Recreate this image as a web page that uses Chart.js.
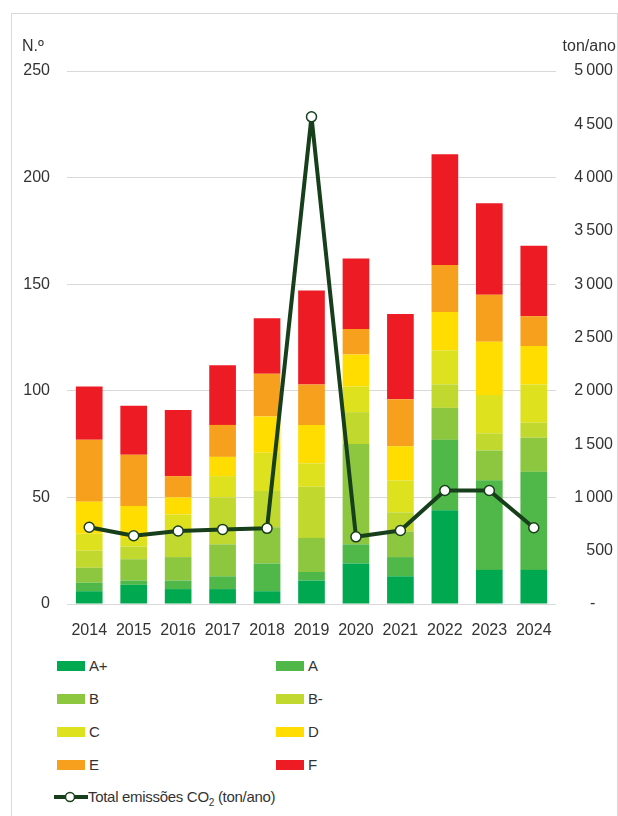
<!DOCTYPE html>
<html>
<head>
<meta charset="utf-8">
<script src="https://cdn.jsdelivr.net/npm/chart.js@4"></script>
<style>
  html, body { margin: 0; padding: 0; background: #fff; }
  #wrap { position: relative; width: 618px; height: 816px; overflow: hidden; font-family: "Liberation Sans", Arial, sans-serif; color: #333; }
  #frame { position: absolute; left: 11px; top: 13px; width: 605px; height: 820px; border-left: 1px solid #d9d9d9; border-top: 1px solid #d9d9d9; border-right: 1px solid #d9d9d9; }
  #chartBox { position: absolute; left: 0; top: 0; width: 618px; height: 650px; }
  .unit { position: absolute; font-size: 16px; line-height: 18px; }
  .leg { position: absolute; font-family: "Liberation Sans Narrow", "Liberation Sans", sans-serif; font-size: 15px; letter-spacing: -0.3px; line-height: 18px; }
  .sw { position: absolute; width: 28px; height: 10px; }
  .lbl { position: absolute; white-space: nowrap; }
</style>
</head>
<body>
<div id="wrap">
  <div id="frame"></div>
  <div id="chartBox"><canvas id="chart"></canvas></div>
  <div class="unit" style="left:22px; top:37px;">N.º</div>
  <div class="unit" style="right:2px; top:37px;">ton/ano</div>
  <div id="legend"></div>
</div>
<script>
// Energy certificates per class (count) and total CO2 emissions per year
const years = ['2014', '2015', '2016', '2017', '2018', '2019', '2020', '2021', '2022', '2023', '2024'];

const classAplus = [6, 9, 7, 7, 6, 11, 19, 13, 44, 16, 16];
const classA     = [4, 2, 4, 6, 13, 4, 9, 9, 33, 42, 46];
const classB     = [7, 10, 11, 15, 17, 16, 47, 12, 15, 14, 16];
const classBm    = [8, 6, 12, 22, 17, 24, 15, 9, 11, 8, 7];
const classC     = [8, 4, 8, 10, 18, 11, 12, 15, 16, 18, 18];
const classD     = [15, 15, 8, 9, 17, 18, 15, 16, 18, 25, 18];
const classE     = [29, 24, 10, 15, 20, 19, 12, 22, 22, 22, 14];
const classF     = [25, 23, 31, 28, 26, 44, 33, 40, 52, 43, 33];

const co2Total = [720, 640, 685, 700, 710, 4570, 630, 690, 1065, 1065, 715];

const classNames  = ['A+', 'A', 'B', 'B-', 'C', 'D', 'E', 'F'];
const classColors = ['#00a94f', '#50b848', '#8dc63f', '#c1d82f', '#dee11e', '#ffdd00', '#f7a01d', '#ed1c24'];
const classSeries = [classAplus, classA, classB, classBm, classC, classD, classE, classF];

const lineColor = '#173f1b';
const tickFont = { family: '"Liberation Sans", Arial, sans-serif', size: 16 };

const datasets = classSeries.map((values, i) => ({
  type: 'bar',
  label: classNames[i],
  data: values,
  backgroundColor: classColors[i],
  borderWidth: 0,
  barPercentage: 0.6,
  categoryPercentage: 1,
  yAxisID: 'y',
  stack: 'classes',
  order: 1
}));

datasets.push({
  type: 'line',
  label: 'Total emissões CO2 (ton/ano)',
  data: co2Total,
  borderColor: lineColor,
  borderWidth: 4,
  borderJoinStyle: 'round',
  pointRadius: 5,
  pointBorderWidth: 1.5,
  pointBackgroundColor: '#fff',
  pointBorderColor: lineColor,
  tension: 0,
  yAxisID: 'y1',
  order: 0
});

new Chart(document.getElementById('chart'), {
  data: { labels: years, datasets },
  options: {
    responsive: true,
    maintainAspectRatio: false,
    animation: false,
    layout: { padding: { top: 71, right: 5, left: 0, bottom: 0 } },
    plugins: { legend: { display: false }, tooltip: { enabled: false } },
    scales: {
      x: {
        stacked: true,
        grid: { display: false },
        border: { display: false },
        ticks: { color: '#333', font: tickFont, padding: 9, maxRotation: 0 },
        afterFit: (s) => { s.height = 46; }
      },
      y: {
        stacked: true,
        position: 'left',
        min: 0,
        max: 250,
        ticks: { stepSize: 50, color: '#333', font: tickFont, padding: 17 },
        grid: { color: '#d9d9d9', lineWidth: 1, drawTicks: false },
        border: { display: false },
        afterFit: (s) => { s.width = 67; }
      },
      y1: {
        position: 'right',
        min: 0,
        max: 5000,
        ticks: {
          stepSize: 500,
          color: '#333',
          font: tickFont,
          crossAlign: 'far',
          callback: (v) => v === 0 ? '-\u2007\u2007' : v.toLocaleString('en-US').replace(',', '\u2009')
        },
        grid: { display: false, drawTicks: false },
        border: { display: false },
        afterFit: (s) => { s.width = 57; }
      }
    }
  }
});

// Legend: two columns of class swatches, then the emissions line
const legend = document.getElementById('legend');
const colX = [57, 276];
const rowY = [666, 699, 732, 765];
classNames.forEach((name, i) => {
  const x = colX[i % 2];
  const y = rowY[Math.floor(i / 2)];
  legend.insertAdjacentHTML('beforeend',
    `<div class="sw" style="left:${x}px; top:${y - 5}px; background:${classColors[i]}"></div>` +
    `<div class="leg lbl" style="left:${x + 32}px; top:${y - 9}px">${name}</div>`);
});
legend.insertAdjacentHTML('beforeend',
  `<svg style="position:absolute; left:54px; top:790px" width="34" height="14">
     <line x1="0" y1="7" x2="34" y2="7" stroke="${lineColor}" stroke-width="4"/>
     <circle cx="16" cy="7" r="4.5" fill="#fff" stroke="${lineColor}" stroke-width="1.5"/>
   </svg>` +
  `<div class="leg lbl" style="left:88px; top:788px">Total emissões CO<sub style="font-size:10px; line-height:0">2</sub> (ton/ano)</div>`);
</script>
</body>
</html>
